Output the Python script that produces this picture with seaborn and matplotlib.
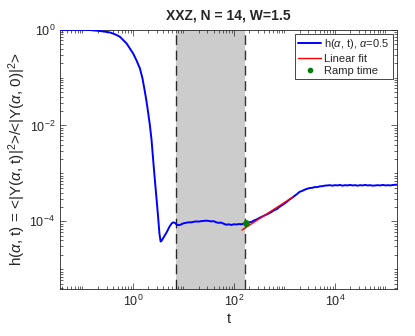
import numpy as np
import pandas as pd
import matplotlib
matplotlib.use("Agg")
import matplotlib.pyplot as plt
import matplotlib.ticker as mticker
import seaborn as sns

# ---- data (log10 t, log10 h) ----
log_t = [-1.45, -1.2, -1.0, -0.85, -0.65, -0.455, -0.35, -0.257, -0.125, 0.006,
         0.07, 0.139, 0.19, 0.238, 0.27, 0.303, 0.337, 0.37, 0.40, 0.436,
         0.47, 0.50, 0.525, 0.549, 0.57, 0.61, 0.667, 0.73, 0.77, 0.798,
         0.83, 0.87, 0.917, 0.96, 1.0, 1.05, 1.095,
         1.15, 1.2, 1.25, 1.3, 1.35, 1.4, 1.45, 1.5, 1.55, 1.6, 1.65, 1.7, 1.75,
         1.8, 1.85, 1.9, 1.95, 2.0, 2.05, 2.1, 2.15, 2.2, 2.25,
         2.3, 2.35, 2.4, 2.45, 2.5, 2.55, 2.6, 2.65, 2.7, 2.75, 2.8, 2.85, 2.9,
         2.95, 3.0, 3.05, 3.1, 3.15, 3.2, 3.25, 3.3, 3.35, 3.4, 3.45, 3.5, 3.55,
         3.6, 3.65, 3.7, 3.75, 3.8, 3.85, 3.9, 3.95, 4.0, 4.05, 4.1, 4.15, 4.2,
         4.25, 4.3, 4.35, 4.4, 4.45, 4.5, 4.55, 4.6, 4.65, 4.7, 4.75, 4.8, 4.85,
         4.9, 4.95, 5.0, 5.05, 5.1, 5.15, 5.23]
log_h = [-0.005, -0.005, -0.006, -0.01, -0.03, -0.06, -0.1, -0.15, -0.29, -0.5,
         -0.64, -0.81, -1.02, -1.30, -1.5, -1.74, -2.0, -2.31, -2.7, -3.15,
         -3.55, -3.92, -4.25, -4.42, -4.40, -4.33, -4.23, -4.10, -4.04, -4.02,
         -4.03, -4.07, -4.08, -4.06, -4.04, -4.03, -4.02,
         -4.02, -4.01, -4.00, -4.005, -3.995, -3.99, -3.985, -3.99, -4.00, -3.995,
         -4.02, -4.03, -4.025, -4.05, -4.07, -4.06, -4.075, -4.06, -4.065, -4.055,
         -4.06, -4.045, -4.04,
         -4.02, -4.01, -3.98, -3.96, -3.93, -3.905, -3.88, -3.855, -3.83, -3.80,
         -3.765, -3.745, -3.70, -3.665, -3.63, -3.59, -3.545, -3.51, -3.47, -3.43,
         -3.385, -3.365, -3.34, -3.32, -3.305, -3.30, -3.285, -3.285, -3.27,
         -3.265, -3.255, -3.25, -3.245, -3.255, -3.245, -3.25, -3.24, -3.255,
         -3.245, -3.25, -3.24, -3.25, -3.245, -3.255, -3.245, -3.25, -3.24,
         -3.25, -3.245, -3.255, -3.25, -3.245, -3.25, -3.24, -3.25, -3.245,
         -3.25, -3.24, -3.235]

fit_log_t = [2.16, 3.17]
fit_log_h = [-4.18, -3.49]

ramp_t = 170.0
ramp_h = 9.1e-5

shade_lo = 7.2
shade_hi = 163.0

title = "XXZ, N = 14, W=1.5"
legend_labels = [r"h($\alpha$, t), $\alpha$=0.5", "Linear fit", "Ramp time"]

# ---- styling ----
sns.set_style("ticks")
plt.rcParams["font.family"] = ["Liberation Sans", "DejaVu Sans"]
plt.rcParams["mathtext.fontset"] = "custom"
plt.rcParams["mathtext.rm"] = "Liberation Sans"
plt.rcParams["mathtext.it"] = "Liberation Sans:italic"
plt.rcParams["mathtext.bf"] = "Liberation Sans:bold"

df = pd.DataFrame({"t": 10.0 ** np.array(log_t), "h": 10.0 ** np.array(log_h)})
fit_df = pd.DataFrame({"t": 10.0 ** np.array(fit_log_t), "h": 10.0 ** np.array(fit_log_h)})

fig = plt.figure(figsize=(4.15, 3.36), dpi=100)
ax = fig.add_axes([0.1446, 0.140, 0.812, 0.772])

ax.axvspan(shade_lo, shade_hi, color=(0.8, 0.8, 0.8), lw=0, zorder=0)
for xv in (shade_lo, shade_hi):
    ax.axvline(xv, color="black", lw=1.0, ls=(0, (7, 4)), alpha=0.8, zorder=1)

sns.lineplot(data=df, x="t", y="h", ax=ax, color="#0000ff", lw=1.4,
             estimator=None, sort=False, label=legend_labels[0], zorder=3)
sns.lineplot(data=fit_df, x="t", y="h", ax=ax, color="#ff0000", lw=1.0,
             estimator=None, sort=False, label=legend_labels[1], zorder=4)
ax.plot([ramp_t], [ramp_h], "o", color=(0, 0.5, 0), ms=3.8, ls="none",
        label=legend_labels[2], zorder=5)

ax.set_xscale("log")
ax.set_yscale("log")
ax.set_xlim(0.036, 1.7e5)
ax.set_ylim(3.9e-6, 1.0)

ax.set_xticks([1, 1e2, 1e4])
ax.set_yticks([1, 1e-2, 1e-4])
ax.xaxis.set_major_formatter(mticker.LogFormatterSciNotation())
ax.yaxis.set_major_formatter(mticker.LogFormatterSciNotation())
xminor = [s * 10.0 ** d for d in range(-2, 6) for s in range(1, 10)]
yminor = [s * 10.0 ** d for d in range(-6, 1) for s in range(1, 10)]
ax.xaxis.set_minor_locator(mticker.FixedLocator(xminor))
ax.yaxis.set_minor_locator(mticker.FixedLocator(yminor))
ax.xaxis.set_minor_formatter(mticker.NullFormatter())
ax.yaxis.set_minor_formatter(mticker.NullFormatter())
ax.set_xlim(0.036, 1.7e5)
ax.set_ylim(3.9e-6, 1.0)

edge = (0.15, 0.15, 0.15)
ax.tick_params(which="both", direction="in", top=True, right=True,
               bottom=True, left=True,
               colors=edge, labelcolor=edge, width=0.5)
ax.tick_params(which="major", length=4, labelsize=9)
ax.tick_params(which="minor", length=2.5)
for s in ax.spines.values():
    s.set_color(edge)
    s.set_linewidth(0.6)

ax.set_xlabel("t", fontsize=10.5, color=edge, labelpad=2)
ax.set_ylabel(r"h($\alpha$, t) = <|Y($\alpha$, t)|$^2$>/<|Y($\alpha$, 0)|$^2$>",
              fontsize=11, color=edge, labelpad=1)
ax.set_title(title, fontsize=10, fontweight="bold", pad=7)

leg = ax.legend(loc="upper right", fontsize=8, frameon=True, fancybox=False,
                edgecolor=edge, framealpha=1, borderpad=0.3, labelspacing=0.2,
                handlelength=2.0, handletextpad=0.3, borderaxespad=0.4,
                markerscale=0.8)
leg.get_frame().set_linewidth(0.6)

fig.savefig("out.png", dpi=100)
